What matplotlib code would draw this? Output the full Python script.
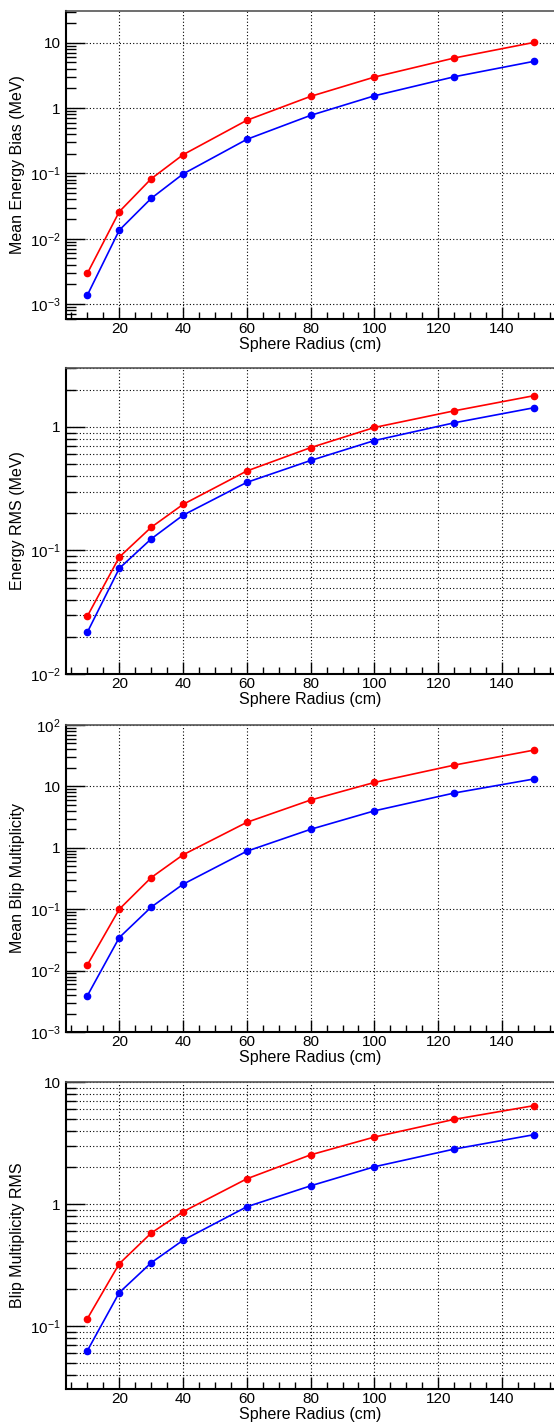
import numpy as np
import matplotlib
matplotlib.use('Agg')
import matplotlib.pyplot as plt
from matplotlib.ticker import LogLocator, FixedLocator, MultipleLocator, FuncFormatter, NullFormatter

plt.rcParams['font.family'] = ['Liberation Sans', 'DejaVu Sans']
plt.rcParams['mathtext.fontset'] = 'custom'
plt.rcParams['mathtext.rm'] = 'Liberation Sans'
plt.rcParams['mathtext.it'] = 'Liberation Sans:italic'
plt.rcParams['mathtext.bf'] = 'Liberation Sans:bold'

# Sphere radius (cm)
radius = [10, 20, 30, 40, 60, 80, 100, 125, 150]

# Mean energy bias (MeV)
bias_red = [0.00295, 0.0259, 0.0826, 0.193, 0.65, 1.51, 2.98, 5.83, 10.1]
bias_blue = [0.00137, 0.0135, 0.0414, 0.098, 0.332, 0.773, 1.54, 3.01, 5.19]

# Energy RMS (MeV)
rms_red = [0.0294, 0.0883, 0.154, 0.236, 0.44, 0.68, 0.99, 1.35, 1.79]
rms_blue = [0.0218, 0.0716, 0.124, 0.193, 0.356, 0.535, 0.776, 1.08, 1.43]

# Mean blip multiplicity
mult_red = [0.0124, 0.100, 0.327, 0.769, 2.6, 6.0, 11.6, 22.2, 39.0]
mult_blue = [0.0039, 0.0345, 0.108, 0.255, 0.88, 2.0, 4.0, 7.8, 13.2]

# Blip multiplicity RMS
mrms_red = [0.115, 0.324, 0.578, 0.865, 1.61, 2.53, 3.54, 4.94, 6.4]
mrms_blue = [0.0628, 0.188, 0.330, 0.505, 0.95, 1.41, 2.02, 2.82, 3.70]

panels = [
    ('Mean Energy Bias (MeV)', bias_red, bias_blue, (5.9e-4, 30.6), False),
    ('Energy RMS (MeV)', rms_red, rms_blue, (0.01, 3.0), True),
    ('Mean Blip Multiplicity', mult_red, mult_blue, (1e-3, 100), False),
    ('Blip Multiplicity RMS', mrms_red, mrms_blue, (0.0305, 10), True),
]

W, H = 554, 1427
# frame top/bottom in pixels for each pad
frames = [(11, 319), (368, 674), (725, 1032), (1082, 1389)]
left_px = 66


def log_label(v, pos):
    e = int(round(np.log10(v)))
    if e == 0:
        return '1'
    if e == 1:
        return '10'
    return r'$10^{%d}$' % e


fig = plt.figure(figsize=(W / 100, H / 100), dpi=100)
dots = (0, (1, 2))

for (ylabel, yr, yb, ylim, minor_grid), (top, bot) in zip(panels, frames):
    ax = fig.add_axes([left_px / W, 1 - bot / H, (W - left_px) / W, (bot - top) / H])
    ax.set_yscale('log')
    ax.set_xlim(3.3, 156.3)
    ax.set_ylim(*ylim)

    ax.plot(radius, yr, color='#ff0000', lw=1.2, marker='o', ms=4.5, zorder=3)
    ax.plot(radius, yb, color='#0000ff', lw=1.2, marker='o', ms=4.5, zorder=3)

    ax.xaxis.set_major_locator(MultipleLocator(20))
    ax.xaxis.set_minor_locator(MultipleLocator(5))
    ax.yaxis.set_major_locator(LogLocator(base=10, numticks=20))
    ax.yaxis.set_minor_locator(LogLocator(base=10, subs=np.arange(2, 10), numticks=20))
    ax.yaxis.set_major_formatter(FuncFormatter(log_label))
    ax.yaxis.set_minor_formatter(NullFormatter())

    ax.grid(True, which='major', color='black', lw=0.8, ls=dots)
    if minor_grid:
        ax.grid(True, which='minor', axis='y', color='black', lw=0.8, ls=dots)

    ax.tick_params(axis='both', which='both', direction='in', top=False, right=False,
                   labelsize=11, width=1.0, color='black')
    ax.tick_params(axis='x', which='major', length=9, pad=2)
    ax.tick_params(axis='x', which='minor', length=5)
    ax.tick_params(axis='y', which='major', length=14, pad=4)
    ax.tick_params(axis='y', which='minor', length=7)

    for side in ('left', 'bottom'):
        ax.spines[side].set_linewidth(1.5)
    ax.spines['top'].set_linewidth(1.2)
    ax.spines['top'].set_color('#555555')
    ax.spines['right'].set_visible(False)

    ax.set_xlabel('Sphere Radius (cm)', fontsize=11.5, labelpad=1)
    ax.set_ylabel(ylabel, fontsize=11.5)
    ax.yaxis.set_label_coords(-0.084, 0.5)

fig.savefig('out.png', dpi=100)
